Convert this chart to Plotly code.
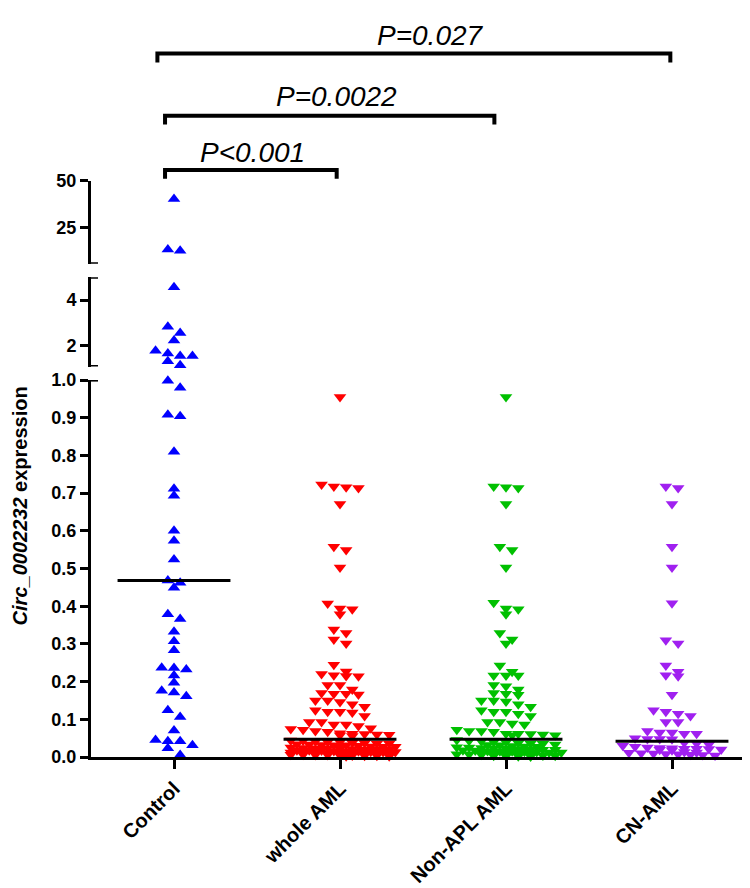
import plotly.graph_objects as go

# ---------------- data ----------------
categories = ["Control", "whole AML", "Non-APL AML", "CN-AML"]

control_values = [
    40.4, 13.5, 12.9,
    4.56, 2.84, 2.56, 2.24, 1.79, 1.56, 1.67, 1.56, 1.33, 1.16,
    0.998, 0.98, 0.904, 0.908, 0.81, 0.712, 0.693, 0.60, 0.574, 0.524,
    0.462, 0.468, 0.449, 0.379, 0.366, 0.332, 0.307, 0.283, 0.236, 0.232,
    0.237, 0.216, 0.197, 0.171, 0.176, 0.161, 0.124, 0.106, 0.07, 0.042,
    0.031, 0.042, 0.045, 0.023, 0.005,
]

whole_aml_values = [
    0.955, 0.723, 0.716, 0.714, 0.718, 0.671, 0.558, 0.549, 0.503, 0.407,
    0.392, 0.379, 0.394, 0.338, 0.329, 0.312, 0.301, 0.245, 0.227, 0.217,
    0.214, 0.215, 0.220, 0.191, 0.191, 0.170, 0.168, 0.179, 0.166, 0.168,
    0.150, 0.146, 0.150, 0.133, 0.140, 0.120, 0.118, 0.109, 0.120, 0.124,
    0.093, 0.086, 0.082, 0.086, 0.093, 0.076, 0.072, 0.074, 0.067, 0.069,
    0.061, 0.062, 0.060, 0.063, 0.058, 0.056, 0.059,
    0.044, 0.043, 0.041, 0.040, 0.040, 0.038, 0.037, 0.036, 0.036, 0.034,
    0.033, 0.032, 0.031, 0.031, 0.030, 0.028, 0.027, 0.027, 0.026, 0.025,
    0.024, 0.023, 0.023, 0.022, 0.021, 0.020, 0.020, 0.019, 0.018, 0.018,
    0.017, 0.016, 0.015, 0.015, 0.014, 0.013, 0.013, 0.012, 0.011, 0.011,
    0.010, 0.010, 0.009, 0.008, 0.008, 0.007, 0.007, 0.006, 0.006, 0.005,
    0.005, 0.004, 0.004, 0.003, 0.003, 0.002, 0.002,
]

non_apl_values = [
    0.955, 0.718, 0.714, 0.716, 0.671, 0.558, 0.549, 0.503, 0.409, 0.394,
    0.392, 0.379, 0.329, 0.312, 0.301, 0.243, 0.226, 0.216, 0.216, 0.216,
    0.191, 0.188, 0.179, 0.170, 0.165, 0.168, 0.147, 0.150, 0.150, 0.133,
    0.140, 0.120, 0.120, 0.124, 0.115, 0.109, 0.093, 0.089, 0.086, 0.093,
    0.069, 0.067, 0.069, 0.072, 0.062, 0.060, 0.058, 0.058, 0.061, 0.062,
    0.045, 0.043, 0.042, 0.040, 0.039, 0.037, 0.036, 0.035, 0.033, 0.032,
    0.031, 0.029, 0.028, 0.027, 0.026, 0.025, 0.024, 0.023, 0.022, 0.021,
    0.020, 0.019, 0.019, 0.018, 0.017, 0.016, 0.015, 0.015, 0.014, 0.013,
    0.012, 0.012, 0.011, 0.010, 0.009, 0.009, 0.008, 0.007, 0.007, 0.006,
    0.006, 0.005, 0.005, 0.004, 0.004, 0.003, 0.003, 0.002, 0.002, 0.001,
]

cn_aml_values = [
    0.718, 0.714, 0.671, 0.558, 0.503, 0.408, 0.310, 0.301, 0.243, 0.217,
    0.214, 0.226, 0.165, 0.120, 0.109, 0.124, 0.115, 0.093, 0.093, 0.065,
    0.062, 0.062, 0.065, 0.069, 0.050, 0.048, 0.048, 0.047,
    0.038, 0.036, 0.033, 0.030, 0.027, 0.025, 0.024, 0.023, 0.022, 0.022,
    0.021, 0.020, 0.019, 0.018, 0.013, 0.012, 0.011, 0.010, 0.009, 0.008,
    0.007, 0.006, 0.005, 0.004,
]

medians = [0.468, 0.047, 0.047, 0.042]

p_labels = ["P=0.027", "P=0.0022", "P&lt;0.001"]
comparisons = [(0, 3), (0, 2), (0, 1)]

bottom_ticks = [0.0, 0.1, 0.2, 0.3, 0.4, 0.5, 0.6, 0.7, 0.8, 0.9, 1.0]
bottom_labels = ["0.0", "0.1", "0.2", "0.3", "0.4", "0.5", "0.6", "0.7", "0.8", "0.9", "1.0"]
middle_ticks = [2, 4]
top_ticks = [25, 50]

# ---------------- layout geometry ----------------
W, H = 750, 888
L, R, T, B = 83, 3, 0, 139
PH = H - T - B          # plot height in px
PW = W - L - R          # plot width in px
FONT = "Arial, Liberation Sans, sans-serif"

def fy(px):
    return (PH - px) / PH

# segments: (value range, pixel range bottom->top)
SEG_BOTTOM = ((0.0, 1.0), (749.0, 367.0))
SEG_MIDDLE = ((1.1, 5.0), (353.3, 262.7))
SEG_TOP = ((6.0, 50.0), (249.0, 165.0))

def seg_for(v):
    if v <= 1.0:
        return "y", SEG_BOTTOM
    if v <= 5.0:
        return "y2", SEG_MIDDLE
    return "y3", SEG_TOP

def to_px(v):
    _, ((a, b), (pa, pb)) = seg_for(v)
    return pa + (v - a) / (b - a) * (pb - pa)

PX_PER_CAT = PW / 4.0
SPACING = 12.3 / PX_PER_CAT

def swarm_offsets(vals, row_px=7.0, maxcols=9):
    order = sorted(range(len(vals)), key=lambda i: -vals[i])
    rows, cur, start = [], [], None
    for i in order:
        p = to_px(vals[i])
        if cur and p - start > row_px:
            rows.append(cur)
            cur = []
        if not cur:
            start = p
        cur.append(i)
    if cur:
        rows.append(cur)
    offs = [0.0] * len(vals)
    for row in rows:
        chunks = [row[k:k + maxcols] for k in range(0, len(row), maxcols)]
        for c, ch in enumerate(chunks):
            n = len(ch)
            shift = 0.5 * (c % 2)
            for j, i in enumerate(ch):
                o = j - (n - 1) / 2.0 + shift
                o = max(-4.5, min(4.5, o))
                offs[i] = o * SPACING
    return offs

groups = [
    (control_values, "#0000FF", "triangle-up"),
    (whole_aml_values, "#FF0000", "triangle-down"),
    (non_apl_values, "#00C000", "triangle-down"),
    (cn_aml_values, "#A020F0", "triangle-down"),
]

fig = go.Figure()

for gi, (vals, color, symbol) in enumerate(groups):
    offs = swarm_offsets(vals)
    for axname in ["y", "y2", "y3"]:
        xs, ys = [], []
        for v, o in zip(vals, offs):
            if seg_for(v)[0] == axname:
                xs.append(gi + o)
                ys.append(v)
        if not xs:
            continue
        fig.add_trace(go.Scatter(
            x=xs, y=ys, mode="markers", yaxis=axname, xaxis="x",
            marker=dict(symbol=symbol, size=11, color=color, line=dict(width=0)),
            cliponaxis=False, showlegend=False, hoverinfo="y",
        ))

# median lines
for gi, m in enumerate(medians):
    fig.add_trace(go.Scatter(
        x=[gi - 0.34, gi + 0.34], y=[m, m], mode="lines", xaxis="x", yaxis="y",
        line=dict(color="black", width=3), showlegend=False, hoverinfo="skip",
        cliponaxis=False,
    ))

axis_common = dict(
    showline=True, linecolor="black", linewidth=3, ticks="outside",
    ticklen=8, tickwidth=3, tickcolor="black", showgrid=False, zeroline=False,
    tickfont=dict(family=FONT, size=18, color="black", weight="bold"),
    fixedrange=True,
)

fig.update_layout(
    width=W, height=H,
    margin=dict(l=L, r=R, t=T, b=B, pad=0),
    plot_bgcolor="white", paper_bgcolor="white",
    showlegend=False,
    xaxis=dict(
        domain=[0, 1], range=[-0.5, 3.5], anchor="y",
        tickmode="array", tickvals=list(range(len(categories))), ticktext=categories,
        tickangle=-45, showline=True, linecolor="black", linewidth=3,
        ticks="outside", ticklen=9, tickwidth=3, tickcolor="black",
        showgrid=False, zeroline=False,
        tickfont=dict(family=FONT, size=20, color="black", weight="bold"),
    ),
    yaxis=dict(
        domain=[fy(749.0), fy(367.0)], range=list(SEG_BOTTOM[0]), anchor="x",
        tickmode="array", tickvals=bottom_ticks, ticktext=bottom_labels,
        **axis_common,
    ),
    yaxis2=dict(
        domain=[fy(353.3), fy(262.7)], range=list(SEG_MIDDLE[0]), anchor="x",
        tickmode="array", tickvals=middle_ticks, ticktext=[str(t) for t in middle_ticks],
        **axis_common,
    ),
    yaxis3=dict(
        domain=[fy(249.0), fy(165.0)], range=list(SEG_TOP[0]), anchor="x",
        tickmode="array", tickvals=top_ticks, ticktext=[str(t) for t in top_ticks],
        **axis_common,
    ),
)

# caps at the axis breaks
caps = [("y", 1.0, 0), ("y2", SEG_MIDDLE[0][0], -3), ("y2", SEG_MIDDLE[0][1], -3),
        ("y3", SEG_TOP[0][0], -3)]
for yref, v, left in caps:
    fig.add_shape(type="line", xref="paper", yref=yref,
                  x0=left / PW, x1=7 / PW, y0=v, y1=v,
                  line=dict(color="black", width=3))

# significance brackets
bracket_geom = [(-0.10, -0.01, 36, 45, 1.545, 18),
                (-0.054, -0.07, 99, 108, 0.98, 80),
                (-0.054, -0.02, 154, 163, 0.47, 136)]
for (a, b), label, (la, rb, ypx, legpx, tx, typx) in zip(comparisons, p_labels, bracket_geom):
    x0 = a + la
    x1 = b + rb
    y0 = fy(ypx)
    yl = fy(legpx)
    fig.add_shape(type="path", xref="x", yref="paper",
                  path=f"M {x0},{yl} L {x0},{y0} L {x1},{y0} L {x1},{yl}",
                  line=dict(color="black", width=4))
    fig.add_annotation(x=tx, y=fy(typx), xref="x", yref="paper",
                       text=f"<i>{label}</i>", showarrow=False,
                       xanchor="center", yanchor="middle",
                       font=dict(family=FONT, size=28, color="black"))

# y-axis title
fig.add_annotation(x=(12 - L) / PW, y=fy(495), xref="paper", yref="paper",
                   text="<b><i>Circ_0002232</i> expression</b>", textangle=-90,
                   showarrow=False, xanchor="center", yanchor="middle",
                   font=dict(family=FONT, size=20, color="black"))

fig.write_html("out.html")
